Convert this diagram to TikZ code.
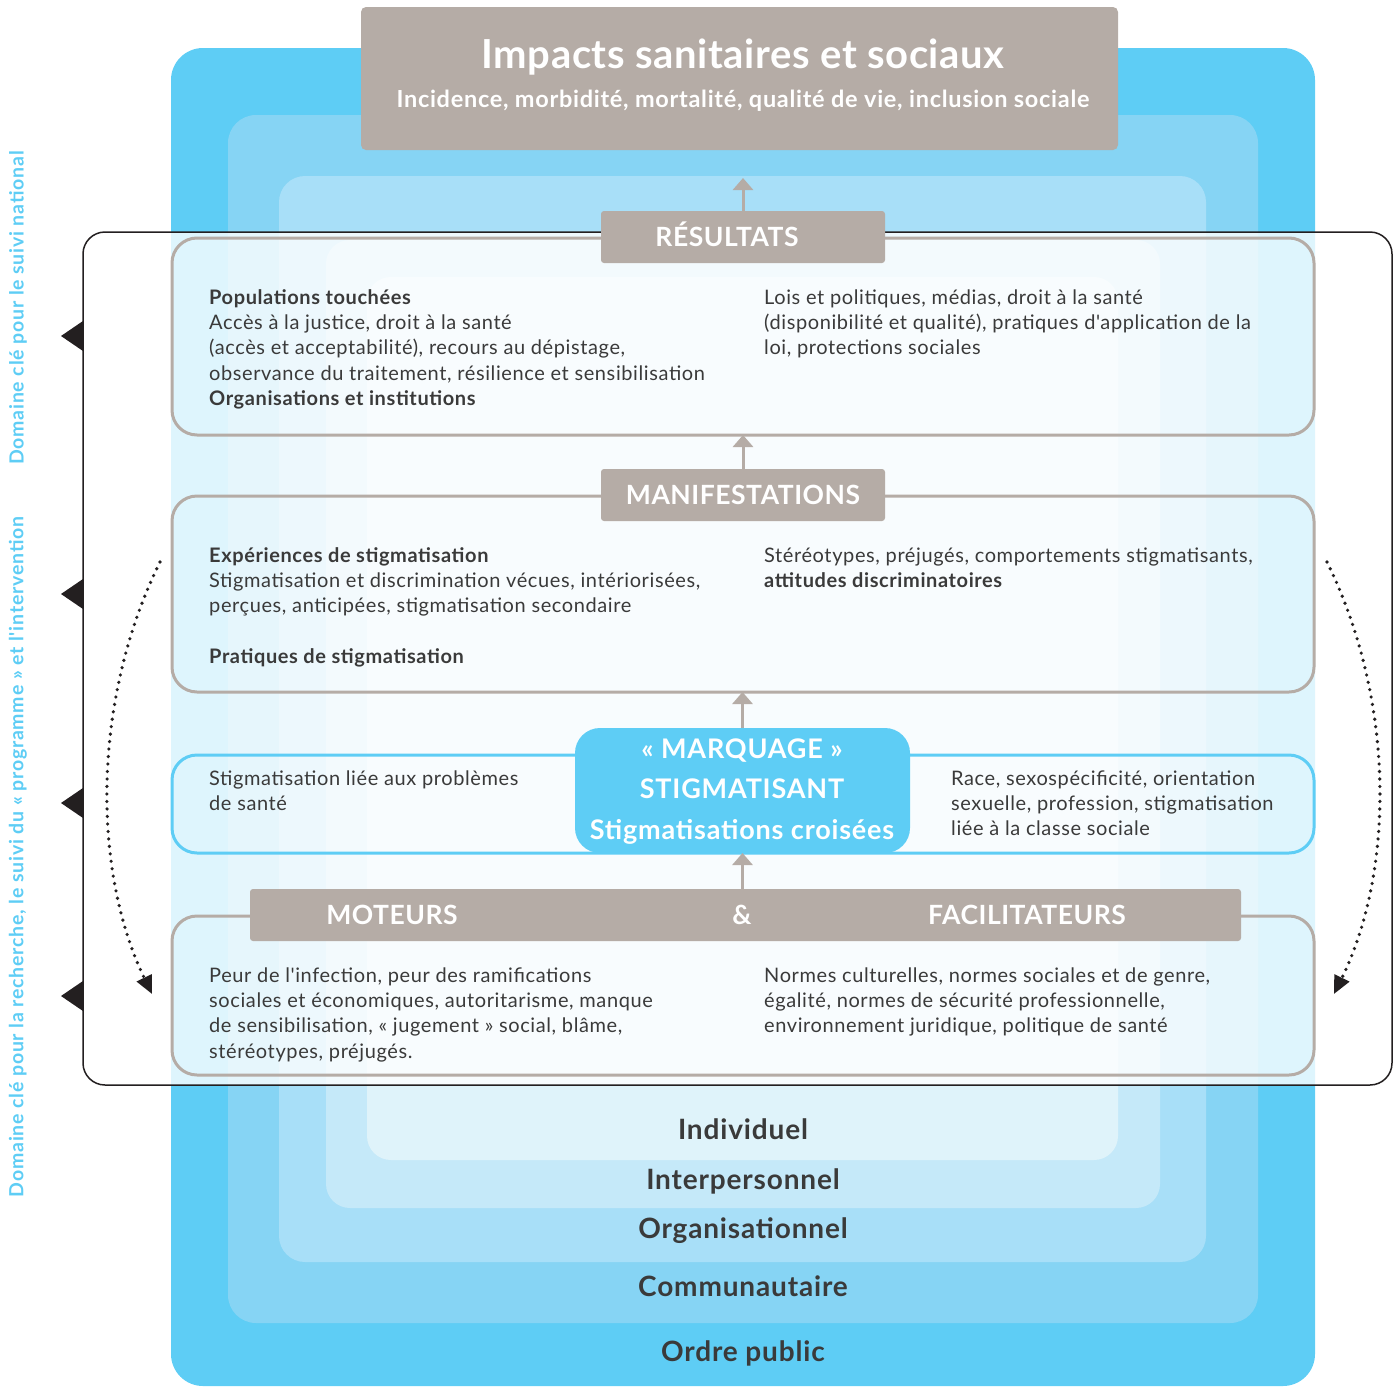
\documentclass[tikz,border=0pt]{standalone}
\usepackage{fontspec}
\setmainfont{Lato}
\newfontfamily\fontLSthree{Lato}[LetterSpace=3]
\newfontfamily\fontLStwo{Lato}[LetterSpace=2]
\newfontfamily\fontLSone{Lato}[LetterSpace=1.5]
\newfontfamily\fontLSfour{Lato}[LetterSpace=4]
\usetikzlibrary{arrows.meta}
\definecolor{lvA}{HTML}{5ECDF5}
\definecolor{lvB}{HTML}{86D4F4}
\definecolor{lvC}{HTML}{A8DFF8}
\definecolor{lvD}{HTML}{C5E9F9}
\definecolor{lvE}{HTML}{DFF3FA}
\definecolor{tabgray}{HTML}{B5ACA6}
\definecolor{txt}{HTML}{3A3A3A}
\definecolor{frameblk}{HTML}{231F20}
\begin{document}
\begin{tikzpicture}[x=1pt,y=-1pt,
  body/.style={anchor=north west, align=left, text=txt, inner sep=0pt, font=\fontLSthree\fontsize{20}{25.3}\selectfont},
  lvlabel/.style={text=txt, inner sep=0pt, anchor=base, font=\fontLSthree\fontsize{28}{30}\selectfont\bfseries},
  contentbox/.style={draw=tabgray, line width=3pt, rounded corners=25pt, inner sep=0pt, outer sep=0pt},
  tabbox/.style={fill=tabgray, rounded corners=3pt, inner sep=0pt, outer sep=0pt},
  tabtext/.style={text=white, inner sep=0pt, anchor=base, font=\fontLStwo\fontsize{26.5}{30}\selectfont\bfseries},
  uparrow/.style={draw=tabgray, line width=3pt, -{Triangle[width=20pt,length=12pt]}},
  sidetext/.style={text=lvA, rotate=90, inner sep=0pt, font=\fontLSfour\fontsize{19.5}{22}\selectfont\bfseries},
  dotarc/.style={draw=frameblk, line width=3.6pt, line cap=round, dash pattern=on 0pt off 7.5pt, -{Triangle[width=16pt,length=18pt]}}
]
\useasboundingbox (0,0) rectangle (1398,1387);
% nested levels
\fill[lvA, rounded corners=32pt] (171,48) rectangle (1315,1386);
\fill[lvB, rounded corners=28pt] (228,115) rectangle (1258,1323);
\fill[lvC, rounded corners=26pt] (279,176) rectangle (1206,1262);
\fill[lvD, rounded corners=24pt] (326,240) rectangle (1160,1208);
\fill[lvE, rounded corners=24pt] (367,277) rectangle (1118,1160);
% impacts box
\node[fill=tabgray, rounded corners=5pt, minimum width=757pt, minimum height=143pt, inner sep=0pt] (imp) at (739.5,78.5) {};
\node[text=white, anchor=base, inner sep=0pt, font=\fontLSone\fontsize{40}{44}\selectfont\bfseries] (impt) at (743,68) {Impacts sanitaires et sociaux};
\node[text=white, anchor=base, inner sep=0pt, font=\fontLSthree\fontsize{23.5}{26}\selectfont\bfseries] (imps) at (743,107) {Incidence, morbidité, mortalité, qualité de vie, inclusion sociale};
% frame overlay
\fill[white, opacity=0.8, rounded corners=22pt] (83,232) rectangle (1392,1085);
\draw[frameblk, line width=1.5pt, rounded corners=22pt] (83,232) rectangle (1392,1085);
% side triangles
\foreach \yy in {336,594,803,996} {
  \fill[frameblk] (83,\yy-15) -- (61,\yy) -- (83,\yy+15) -- cycle;
}
% content boxes
\node[contentbox, minimum width=1142pt, minimum height=197pt] (res) at (743,336.5) {};
\node[contentbox, minimum width=1142pt, minimum height=196pt] (man) at (743,594) {};
\node[contentbox, draw=lvA, minimum width=1142pt, minimum height=98pt] (marq) at (743,804) {};
\node[contentbox, minimum width=1142pt, minimum height=159pt] (mot) at (743,995.5) {};
% tabs
\node[tabbox, minimum width=284pt, minimum height=52pt] (restab) at (743,237) {};
\node[tabtext] (restabt) at (727,246) {RÉSULTATS};
\node[tabbox, minimum width=284pt, minimum height=52pt] (mantab) at (743,495) {};
\node[tabtext] (mantabt) at (743,504) {MANIFESTATIONS};
\node[fill=lvA, rounded corners=25pt, minimum width=335pt, minimum height=125pt, inner sep=0pt, outer sep=0pt] (mq) at (742.5,790.5) {};
\node[text=white, inner sep=0pt, anchor=north, align=center, font=\fontLSthree\fontsize{27}{40.5}\selectfont\bfseries] (mqt) at (742,729.6) {\strut« MARQUAGE »\\STIGMATISANT\\Stigmatisations croisées};
\node[tabbox, minimum width=991pt, minimum height=52pt] (mottab) at (745.5,915) {};
\node[tabtext] (m1) at (392,924) {MOTEURS};
\node[tabtext] (m2) at (742,924) {\&};
\node[tabtext] (m3) at (1027,924) {FACILITATEURS};
% arrows
\coordinate (imptip) at (743,178);
\draw[uparrow] (restab.north) -- (imptip);
\draw[uparrow] (mantab.north) -- (res.south);
\draw[uparrow] (mq.north) -- (mq.north |- man.south);
\draw[uparrow] (mq.south |- mottab.north) -- (mq.south);
% texts (top = baseline - 17.7)
\node[body] (r1) at (209,286.3) {\strut\textbf{Populations touchées}\\Accès à la justice, droit à la santé\\(accès et acceptabilité), recours au dépistage,\\observance du traitement, résilience et sensibilisation\\\textbf{Organisations et institutions}};
\node[body] (r2) at (764,286.3) {\strut Lois et politiques, médias, droit à la santé\\(disponibilité et qualité), pratiques d'application de la\\loi, protections sociales};
\node[body] (e1) at (209,544.3) {\strut\textbf{Expériences de stigmatisation}\\Stigmatisation et discrimination vécues, intériorisées,\\perçues, anticipées, stigmatisation secondaire};
\node[body] (e2) at (209,645.3) {\strut\textbf{Pratiques de stigmatisation}};
\node[body] (e3) at (764,544.3) {\strut Stéréotypes, préjugés, comportements stigmatisants,\\\textbf{attitudes discriminatoires}};
\node[body] (s1) at (209,767.3) {\strut Stigmatisation liée aux problèmes\\de santé};
\node[body] (s2) at (951,767.3) {\strut Race, sexospécificité, orientation\\sexuelle, profession, stigmatisation\\liée à la classe sociale};
\node[body] (d1) at (209,964.3) {\strut Peur de l'infection, peur des ramifications\\sociales et économiques, autoritarisme, manque\\de sensibilisation, « jugement » social, blâme,\\stéréotypes, préjugés.};
\node[body] (d2) at (764,964.3) {\strut Normes culturelles, normes sociales et de genre,\\égalité, normes de sécurité professionnelle,\\environnement juridique, politique de santé};
% level labels
\node[lvlabel] (l1) at (743,1139) {Individuel};
\node[lvlabel] (l2) at (743,1189) {Interpersonnel};
\node[lvlabel] (l3) at (743,1238) {Organisationnel};
\node[lvlabel] (l4) at (743,1296) {Communautaire};
\node[lvlabel] (l5) at (743,1361) {Ordre public};
% side texts
\node[sidetext] (v1) at (18,308) {Domaine clé pour le suivi national};
\node[sidetext] (v2) at (18,857) {Domaine clé pour la recherche, le suivi du « programme » et l'intervention};
% dotted arcs
\coordinate (la) at (160,562);
\coordinate (lb) at (152,994);
\coordinate (ra) at (1327,562);
\coordinate (rb) at (1334,994);
\draw[dotarc] (la) .. controls (92,700) and (92,870) .. (lb);
\draw[dotarc] (ra) .. controls (1395,700) and (1395,870) .. (rb);
\end{tikzpicture}
\end{document}
